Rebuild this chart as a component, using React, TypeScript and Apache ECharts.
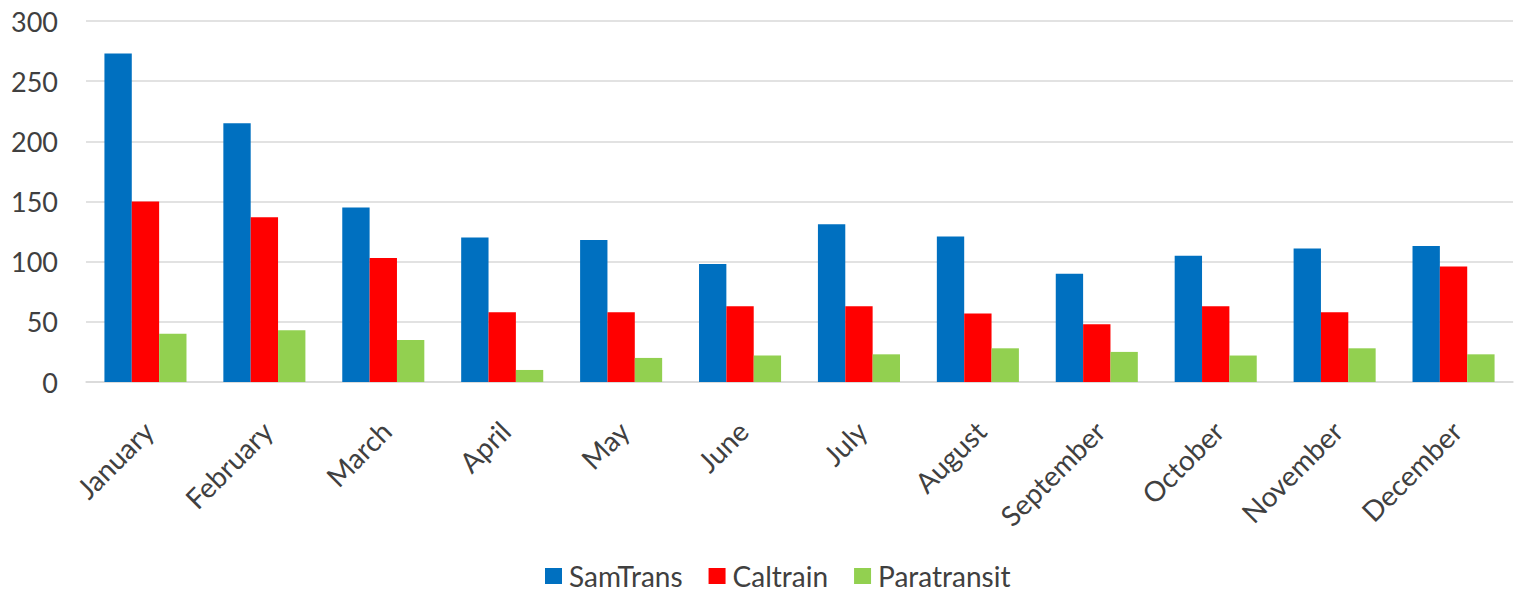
import React, { useEffect, useRef } from "react";
import * as echarts from "echarts";

const months = ["January", "February", "March", "April", "May", "June", "July", "August", "September", "October", "November", "December"];
const samTrans = [273, 215, 145, 120, 118, 98, 131, 121, 90, 105, 111, 113];
const caltrain = [150, 137, 103, 58, 58, 63, 63, 57, 48, 63, 58, 96];
const paratransit = [40, 43, 35, 10, 20, 22, 23, 28, 25, 22, 28, 23];
const seriesNames = ["SamTrans", "Caltrain", "Paratransit"];
const colors = ["#0070C0", "#FF0000", "#92D050"];

const FONT = "Lato";
const TEXT = "#404040";

export default function App() {
  const ref = useRef<HTMLDivElement>(null);
  useEffect(() => {
    document.body.style.margin = "0";
    const chart = echarts.init(ref.current!, undefined, { renderer: "svg" });
    const data = [samTrans, caltrain, paratransit];
    chart.setOption({
      animation: false,
      backgroundColor: "#ffffff",
      textStyle: { fontFamily: FONT },
      grid: { left: 86, right: 1, top: 21, bottom: 210, containLabel: false },
      legend: {
        data: seriesNames,
        left: 545,
        top: 561,
        padding: 0,
        itemWidth: 17,
        itemHeight: 16,
        itemGap: 26,
        icon: "rect",
        textStyle: { color: TEXT, fontSize: 28, fontFamily: FONT, padding: [0, 0, 0, 2], lineHeight: 30 },
      },
      xAxis: {
        type: "category",
        data: months,
        axisTick: { show: false },
        axisLine: { show: true, lineStyle: { color: "#d9d9d9", width: 1.5 } },
        axisLabel: {
          rotate: 45,
          color: TEXT,
          fontSize: 28,
          fontFamily: FONT,
          margin: 27,
          interval: 0,
          verticalAlign: "top",
          padding: [0, 10, 0, 0],
        },
      },
      yAxis: {
        type: "value",
        min: 0,
        max: 300,
        interval: 50,
        axisLine: { show: false },
        axisTick: { show: false },
        splitLine: { lineStyle: { color: "#d9d9d9", width: 1.5 } },
        axisLabel: { color: TEXT, fontSize: 27, fontFamily: FONT, margin: 28 },
      },
      series: seriesNames.map((name, i) => ({
        name,
        type: "bar",
        data: data[i],
        barGap: "0%",
        barCategoryGap: "31%",
        itemStyle: { color: colors[i] },
      })),
    });
    return () => chart.dispose();
  }, []);
  return <div ref={ref} style={{ width: 1514, height: 592 }} />;
}
